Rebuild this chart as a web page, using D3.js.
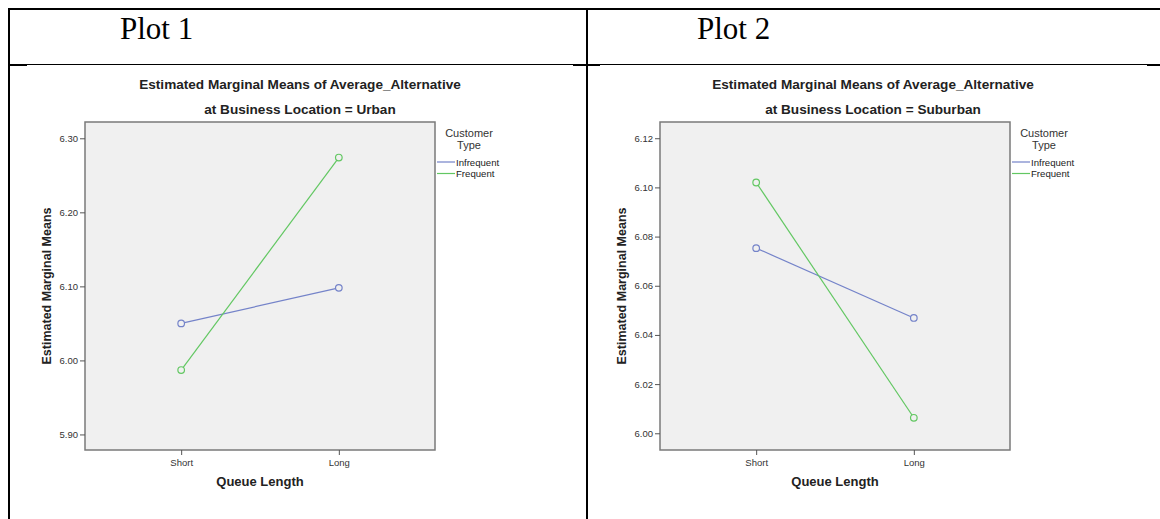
<!DOCTYPE html>
<html>
<head>
<meta charset="utf-8">
<script src="https://cdn.jsdelivr.net/npm/d3@7"></script>
<style>
  body { margin: 0; background: #fff; }
  svg { display: block; }
  text { font-family: "Liberation Sans", Arial, sans-serif; }
</style>
</head>
<body>
<svg width="1160" height="519"></svg>
<script>
// data
const queueLengths = ['Short', 'Long'];
const customerTypes = ['Infrequent', 'Frequent'];

const urbanInfrequent = [6.050, 6.098];
const urbanFrequent = [5.987, 6.274];
const urbanTicks = [5.90, 6.00, 6.10, 6.20, 6.30];
const urbanExtent = [5.879, 6.322];

const suburbanInfrequent = [6.0753, 6.0469];
const suburbanFrequent = [6.102, 6.0063];
const suburbanTicks = [6.00, 6.02, 6.04, 6.06, 6.08, 6.10, 6.12];
const suburbanExtent = [5.9932, 6.1266];

const seriesColors = ['#7483c9', '#62c762'];

const svg = d3.select('svg');

// table frame around the two cells
const frame = svg.append('g').attr('stroke', '#000').attr('fill', 'none');
frame.append('line').attr('x1', 8).attr('x2', 1160).attr('y1', 9).attr('y2', 9).attr('stroke-width', 2);
frame.append('line').attr('x1', 9).attr('x2', 9).attr('y1', 8).attr('y2', 519).attr('stroke-width', 2);
frame.append('line').attr('x1', 587).attr('x2', 587).attr('y1', 8).attr('y2', 519).attr('stroke-width', 2);
frame.append('line').attr('x1', 8).attr('x2', 1160).attr('y1', 64.5).attr('y2', 64.5).attr('stroke-width', 1);
[[10, 27], [573, 600], [1147, 1160]].forEach(s => {
    frame.append('line').attr('x1', s[0]).attr('x2', s[1]).attr('y1', 65.5).attr('y2', 65.5).attr('stroke-width', 1);
});

svg.append('text').attr('x', 120).attr('y', 39)
   .style('font-family', '"Liberation Serif", "Times New Roman", serif')
   .style('font-size', '31px').text('Plot 1');
svg.append('text').attr('x', 697).attr('y', 39)
   .style('font-family', '"Liberation Serif", "Times New Roman", serif')
   .style('font-size', '31px').text('Plot 2');

function drawChart(cfg) {
    const left = cfg.left, right = cfg.left + 350;
    const top = 122, bottom = 450;
    const g = svg.append('g');

    const x = d3.scalePoint().domain(queueLengths).range([left, right]).padding(0.61);
    const y = d3.scaleLinear().domain(cfg.extent).range([bottom, top]);

    // titles
    g.append('text').attr('x', cfg.titleX).attr('y', 89)
     .attr('text-anchor', 'middle').style('font-size', '13.6px').style('font-weight', 'bold')
     .attr('fill', '#222').text('Estimated Marginal Means of Average_Alternative');
    g.append('text').attr('x', cfg.titleX).attr('y', 114)
     .attr('text-anchor', 'middle').style('font-size', '13.6px').style('font-weight', 'bold')
     .attr('fill', '#222').text('at Business Location = ' + cfg.location);

    g.append('rect').attr('x', left).attr('y', top)
     .attr('width', right - left).attr('height', bottom - top)
     .attr('fill', '#f0f0f0').attr('stroke', '#7a7a7a').attr('stroke-width', 1.5);

    const yAxis = g.append('g').attr('transform', `translate(${left},0)`)
        .call(d3.axisLeft(y).tickValues(cfg.ticks).tickFormat(d3.format('.2f')).tickSize(5).tickPadding(2));
    yAxis.select('.domain').remove();
    yAxis.selectAll('line').attr('stroke', '#555');
    yAxis.selectAll('text').style('font-size', '9.5px').attr('fill', '#333')
         .style('font-family', '"Liberation Sans", Arial, sans-serif');

    const xAxis = g.append('g').attr('transform', `translate(0,${bottom})`)
        .call(d3.axisBottom(x).tickSize(5).tickPadding(4));
    xAxis.select('.domain').remove();
    xAxis.selectAll('line').attr('stroke', '#555');
    xAxis.selectAll('text').style('font-size', '9.5px').attr('fill', '#333')
         .style('font-family', '"Liberation Sans", Arial, sans-serif');

    g.append('text').attr('x', (left + right) / 2).attr('y', 486)
     .attr('text-anchor', 'middle').style('font-size', '13px').style('font-weight', 'bold')
     .attr('fill', '#222').text('Queue Length');
    g.append('text')
     .attr('transform', `translate(${left - 34},${(top + bottom) / 2}) rotate(-90)`)
     .attr('text-anchor', 'middle').style('font-size', '12.5px').style('font-weight', 'bold')
     .attr('fill', '#222').text('Estimated Marginal Means');

    const line = d3.line().x((d, i) => x(queueLengths[i])).y(d => y(d));
    cfg.series.forEach((vals, k) => {
        g.append('path').datum(vals).attr('d', line)
         .attr('fill', 'none').attr('stroke', seriesColors[k]).attr('stroke-width', 1.2);
        g.selectAll(null).data(vals).enter().append('circle')
         .attr('cx', (d, i) => x(queueLengths[i])).attr('cy', d => y(d)).attr('r', 3.3)
         .attr('fill', '#f0f0f0').attr('stroke', seriesColors[k]).attr('stroke-width', 1.2);
    });

    // legend
    const lx = right + 2;
    g.append('text').attr('x', lx + 32).attr('y', 137).attr('text-anchor', 'middle')
     .style('font-size', '11px').attr('fill', '#333').text('Customer');
    g.append('text').attr('x', lx + 32).attr('y', 149).attr('text-anchor', 'middle')
     .style('font-size', '11px').attr('fill', '#333').text('Type');
    customerTypes.forEach((name, k) => {
        const ly = 162 + k * 11.5;
        g.append('line').attr('x1', lx).attr('x2', lx + 18).attr('y1', ly).attr('y2', ly)
         .attr('stroke', seriesColors[k]).attr('stroke-width', 1.2);
        g.append('text').attr('x', lx + 19).attr('y', ly + 3.5).style('font-size', '9.6px')
         .attr('fill', '#222').text(name);
    });
}

drawChart({ left: 85, titleX: 300, location: 'Urban', extent: urbanExtent, ticks: urbanTicks,
            series: [urbanInfrequent, urbanFrequent] });
drawChart({ left: 660, titleX: 873, location: 'Suburban', extent: suburbanExtent, ticks: suburbanTicks,
            series: [suburbanInfrequent, suburbanFrequent] });
</script>
</body>
</html>
